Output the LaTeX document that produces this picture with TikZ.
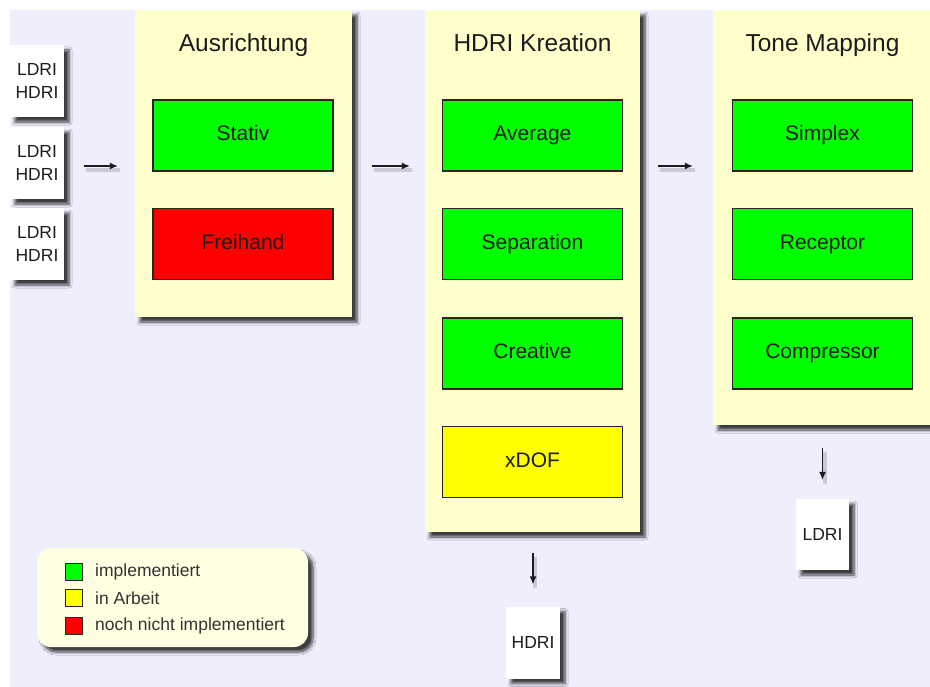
\documentclass[tikz,border=0pt]{standalone}
\usepackage{fontspec}
\setmainfont{Liberation Sans}
\usetikzlibrary{shadows.blur,arrows.meta}
\definecolor{bgc}{RGB}{238,238,252}
\definecolor{panelc}{RGB}{255,255,204}
\definecolor{legc}{RGB}{255,255,226}
\definecolor{txtc}{RGB}{28,28,28}
\definecolor{okc}{RGB}{0,255,0}
\definecolor{wipc}{RGB}{255,255,0}
\definecolor{noc}{RGB}{255,0,0}
\tikzset{
  shad/.style={blur shadow={shadow xshift=5pt,shadow yshift=-5pt,shadow blur radius=3pt,shadow blur steps=6,shadow opacity=75}},
  panelbox/.style={rectangle,fill=panelc,draw=none,shad,inner sep=0pt},
  title/.style={anchor=base,text=txtc,font=\fontsize{24.5}{28}\selectfont},
  stepbox/.style={rectangle,draw=black!85,line width=1.1pt,minimum width=180pt,minimum height=71pt,
     text=txtc,font=\fontsize{21}{25}\selectfont,text height=16pt,text depth=5pt,inner sep=0pt},
  docbox/.style={rectangle,fill=white,draw=none,shad,minimum width=54pt,minimum height=72pt,
     text=txtc,align=center,font=\fontsize{17.5}{23.5}\selectfont,inner sep=0pt},
  legsq/.style={rectangle,draw=black!85,line width=1pt,minimum width=17pt,minimum height=17pt,inner sep=0pt},
  legtxt/.style={anchor=west,text=txtc!90,font=\fontsize{17.5}{21}\selectfont,inner sep=0pt},
  arrshadow/.style={draw=black,opacity=0.15,line width=4pt,transform canvas={shift={(2pt,-4pt)}}},
  arr/.style={draw=txtc,line width=1.1pt,-{Latex[length=8pt,width=7pt]}}
}
\begin{document}
\begin{tikzpicture}[x=1pt,y=-1pt]
\useasboundingbox (0,0) rectangle (930,687);
\fill[white] (0,0) rectangle (930,687);
\fill[bgc] (10,10) rectangle (930,687);

% panels
\node[panelbox,minimum width=217pt,minimum height=307pt] (aus) at (243.5,163.5) {};
\node[panelbox,minimum width=215pt,minimum height=522pt] (hdr) at (532.5,271) {};
\node[panelbox,minimum width=222pt,minimum height=415pt] (tm) at (824,217.5) {};
\fill[white] (0,0) rectangle (930,10);

\node[title] (taus) at (243.5,52) {Ausrichtung};
\node[title] (thdr) at (532.5,52) {HDRI Kreation};
\node[title] (ttm) at (822.5,52) {Tone Mapping};

% step boxes
\node[stepbox,fill=okc] (stativ) at (243,135.5) {Stativ};
\node[stepbox,fill=noc] (frei) at (243,244) {Freihand};
\node[stepbox,fill=okc] (avg) at (532.5,135.5) {Average};
\node[stepbox,fill=okc] (sep) at (532.5,244) {Separation};
\node[stepbox,fill=okc] (cre) at (532.5,353.5) {Creative};
\node[stepbox,fill=wipc] (xdof) at (532.5,462) {xDOF};
\node[stepbox,fill=okc] (simp) at (822.5,135.5) {Simplex};
\node[stepbox,fill=okc] (rec) at (822.5,244) {Receptor};
\node[stepbox,fill=okc] (comp) at (822.5,353.5) {Compressor};

% documents
\node[docbox] (in1) at (37,81) {LDRI\\HDRI};
\node[docbox] (in2) at (37,163) {LDRI\\HDRI};
\node[docbox] (in3) at (37,244) {LDRI\\HDRI};
\node[docbox] (hdoc) at (533,642.5) {HDRI};
\node[docbox,minimum width=53pt,minimum height=71pt] (ldoc) at (822.5,534.5) {LDRI};

% arrows
\coordinate (row) at (0,166);
\draw[arrshadow,shorten <=20pt,shorten >=17pt] (in2.east |- row) -- (aus.west |- row);
\draw[arrshadow,shorten <=20pt,shorten >=15pt] (aus.east |- row) -- (hdr.west |- row);
\draw[arrshadow,shorten <=18pt,shorten >=20pt] (hdr.east |- row) -- (tm.west |- row);
\draw[arrshadow,shorten <=21pt,shorten >=22pt] (hdr.south -| hdoc.north) -- (hdoc.north);
\draw[arrshadow,shorten <=23pt,shorten >=19pt] (tm.south -| ldoc.north) -- (ldoc.north);
\draw[arr,shorten <=20pt,shorten >=17pt] (in2.east |- row) -- (aus.west |- row);
\draw[arr,shorten <=20pt,shorten >=15pt] (aus.east |- row) -- (hdr.west |- row);
\draw[arr,shorten <=18pt,shorten >=20pt] (hdr.east |- row) -- (tm.west |- row);
\draw[arr,shorten <=21pt,shorten >=22pt] (hdr.south -| hdoc.north) -- (hdoc.north);
\draw[arr,shorten <=23pt,shorten >=19pt] (tm.south -| ldoc.north) -- (ldoc.north);

% legend
\node[rectangle,rounded corners=14pt,fill=legc,shad,minimum width=271pt,minimum height=99pt,inner sep=0pt] (leg) at (172.5,597.5) {};
\node[legsq,fill=okc] (s1) at (73.5,571.5) {};
\node[legsq,fill=wipc] (s2) at (73.5,598) {};
\node[legsq,fill=noc] (s3) at (73.5,625.5) {};
\node[legtxt] (l1) at (95,571.5) {implementiert};
\node[legtxt] (l2) at (95,598) {in Arbeit};
\node[legtxt] (l3) at (95,625.5) {noch nicht implementiert};
\end{tikzpicture}
\end{document}
